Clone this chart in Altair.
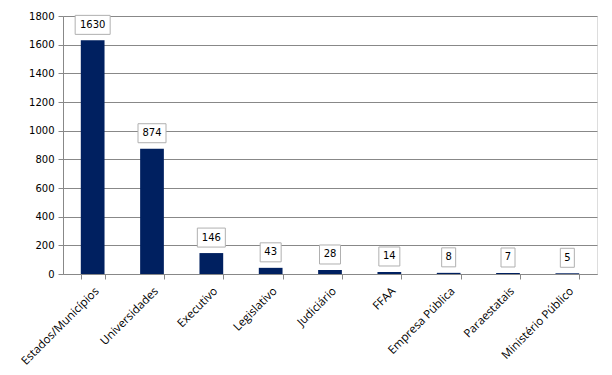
import altair as alt
import pandas as pd

categories = ["Estados/Municípios", "Universidades", "Executivo", "Legislativo",
              "Judiciário", "FFAA", "Empresa Pública", "Paraestatais", "Ministério Público"]
values = [1630, 874, 146, 43, 28, 14, 8, 7, 5]
y_ticks = [0, 200, 400, 600, 800, 1000, 1200, 1400, 1600, 1800]

df = pd.DataFrame({"cat": categories, "value": values})

x = alt.X("cat:N", sort=categories, title=None,
          scale=alt.Scale(paddingInner=0.6, paddingOuter=0.3),
          axis=alt.Axis(labelAngle=-45, labelFont="Open Sans", labelFontSize=11.5,
                        labelColor="#000000", domainColor="#888888", tickColor="#888888",
                        tickBand="extent", tickSize=5, labelPadding=6))
y = alt.Y("value:Q", title=None,
          scale=alt.Scale(domain=[0, 1800], nice=False),
          axis=alt.Axis(values=y_ticks, format="d", labelFont="DejaVu Sans", labelFontSize=10,
                        labelColor="#000000", domainColor="#888888", tickColor="#888888",
                        gridColor="#888888", gridWidth=1, tickSize=5, labelPadding=4))
y2 = alt.Y2("value:Q")

base = alt.Chart(df)

bars = base.mark_bar(color="#002060").encode(x=x, y=y)

boxes = base.transform_calculate(
    lw="length(toString(datum.value)) * 7 + 7"
).mark_rect(
    fill="white", stroke="#b0b0b0", strokeWidth=1,
    width=alt.ExprRef(expr="datum.lw"), yOffset=-6, y2Offset=-25
).encode(x=x, y=y, y2=y2)

labels = base.mark_text(font="DejaVu Sans", fontSize=10, color="#000000",
                        baseline="middle", dy=-15.5).encode(
    x=x, y=y, text="value:Q")

chart = alt.layer(bars, boxes, labels).properties(
    width=534, height=258,
    autosize=alt.AutoSizeParams(type="none"),
    padding={"left": 55, "top": 8, "right": 7, "bottom": 93},
).configure_view(stroke=None).configure(background="white")

chart.save("out.html", embed_options={"renderer": "svg", "actions": False})
